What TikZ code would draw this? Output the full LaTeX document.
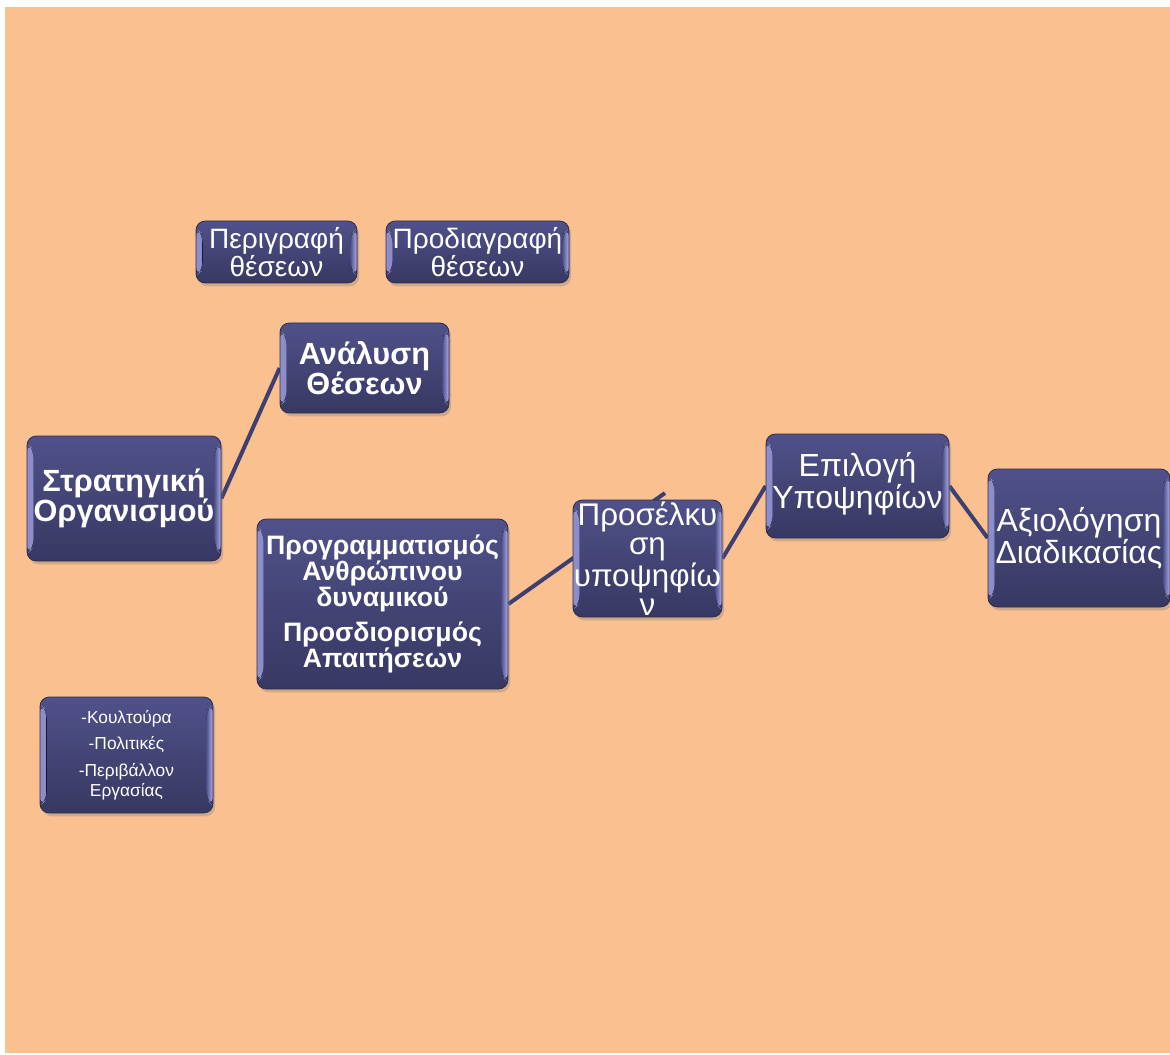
\documentclass[tikz,border=0pt]{standalone}
\usepackage{fontspec}
\setmainfont{Liberation Sans}
\usetikzlibrary{shadows}
\definecolor{peach}{HTML}{FAC090}
\definecolor{boxtop}{HTML}{505189}
\definecolor{boxbot}{HTML}{373862}
\definecolor{bevel}{HTML}{AEB0F0}
\definecolor{linkcol}{HTML}{3E3F70}
\pgfdeclarelayer{bg}
\pgfdeclarelayer{links}
\pgfsetlayers{bg,links,main}
\tikzset{
	box/.style={rectangle, rounded corners=7pt, inner sep=0pt, align=center, text=white,
		top color=boxtop, bottom color=boxbot, draw=boxbot!80!black, line width=0.6pt,
		drop shadow={shadow xshift=1.5pt, shadow yshift=-2.5pt, opacity=.35},
		path picture={
			\fill[left color=bevel!65!boxtop, right color=boxtop]
				([yshift=-5pt]path picture bounding box.north west) -- ([xshift=5pt,yshift=-10pt]path picture bounding box.north west)
				-- ([xshift=5pt,yshift=10pt]path picture bounding box.south west) -- ([yshift=5pt]path picture bounding box.south west) -- cycle;
			\fill[left color=boxtop, right color=bevel]
				([yshift=-5pt]path picture bounding box.north east) -- ([xshift=-5pt,yshift=-10pt]path picture bounding box.north east)
				-- ([xshift=-5pt,yshift=10pt]path picture bounding box.south east) -- ([yshift=5pt]path picture bounding box.south east) -- cycle;
		}},
	link/.style={draw=linkcol, line width=3pt}
}
\begin{document}
\begin{tikzpicture}[x=0.75pt, y=-0.75pt]
	\useasboundingbox (0,0) rectangle (1170,1055);
	\begin{pgfonlayer}{bg}
		\fill[white] (0,0) rectangle (1170,1055);
		\fill[peach] (5,7) rectangle (1170,1053);
	\end{pgfonlayer}

	% job analysis
	\node[box, minimum width=120.75pt, minimum height=46.5pt, font=\fontsize{21}{19}\selectfont] (peri) at (276.5,252) {Περιγραφή\\θέσεων};
	\node[box, minimum width=137.25pt, minimum height=46.5pt, font=\fontsize{21}{19}\selectfont] (prod) at (477.5,252) {Προδιαγραφή\\θέσεων};
	\node[box, minimum width=126.75pt, minimum height=67.5pt, font=\bfseries\fontsize{23}{23}\selectfont] (anal) at (364.5,368) {Ανάλυση\\Θέσεων};

	% strategy and planning
	\node[box, minimum width=145.5pt, minimum height=93.75pt, font=\bfseries\fontsize{23}{23}\selectfont] (strat) at (124,498.5) {Στρατηγική\\Οργανισμού};
	\node[box, minimum width=188.25pt, minimum height=127.5pt, font=\bfseries\fontsize{20}{19.5}\selectfont] (prog) at (382.5,604) {Προγραμματισμός\\Ανθρώπινου\\δυναμικού\\[7pt]Προσδιορισμός\\Απαιτήσεων};
	\node[box, minimum width=129.75pt, minimum height=87pt, font=\fontsize{13}{15}\selectfont] (koul) at (126.5,755) {-Κουλτούρα\\[5pt]-Πολιτικές\\[5pt]-Περιβάλλον\\Εργασίας};

	% selection process
	\node[box, minimum width=111.75pt, minimum height=87.75pt, font=\fontsize{23.5}{22}\selectfont] (pros) at (647.5,558.5) {Προσέλκυ\\ση\\υποψηφίω\\ν};
	\node[box, minimum width=137.25pt, minimum height=78pt, font=\fontsize{24}{22}\selectfont] (epil) at (857.5,486) {Επιλογή\\Υποψηφίων\\[-13pt]};
	\node[box, minimum width=136.5pt, minimum height=103.5pt, font=\fontsize{24}{22}\selectfont] (axio) at (1079,538) {Αξιολόγηση\\Διαδικασίας};

	\coordinate (progTail) at (665,493);

	\begin{pgfonlayer}{links}
		\draw[link] (strat.east) -- (anal.west);
		\draw[link] (prog.east) -- (progTail);
		\draw[link] (pros.east) -- (epil.west);
		\draw[link] (epil.east) -- (axio.west);
	\end{pgfonlayer}
\end{tikzpicture}
\end{document}
